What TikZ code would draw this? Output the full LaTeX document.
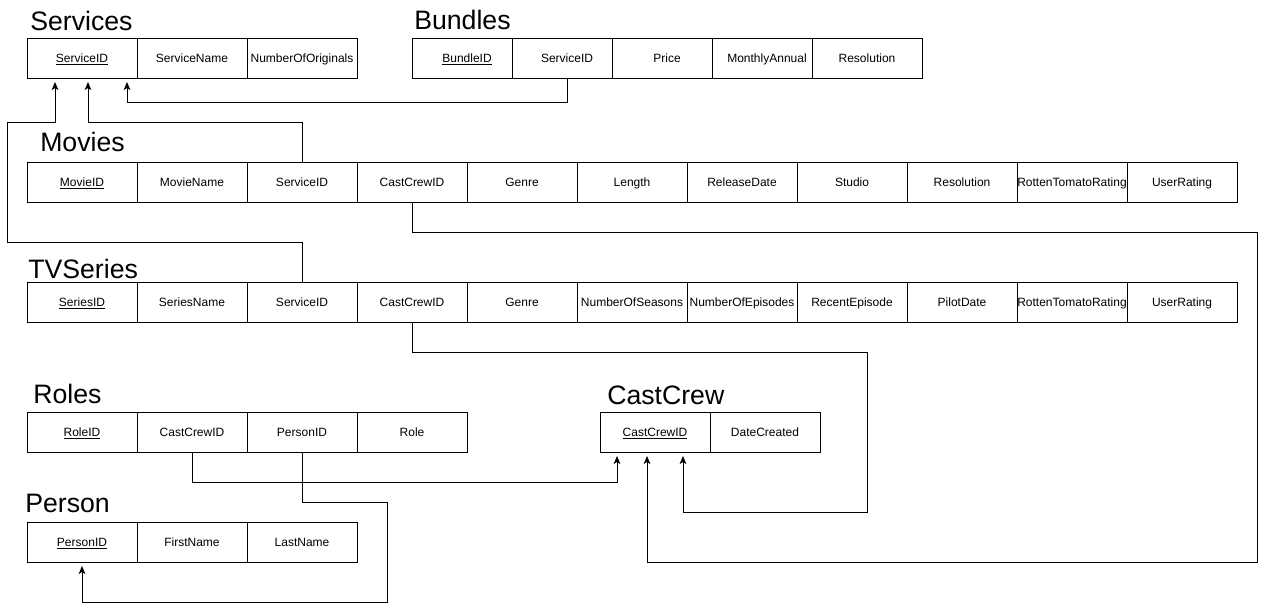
\documentclass[tikz,border=0pt]{standalone}
\usepackage{fontspec}
\setmainfont{Liberation Sans}
\usetikzlibrary{positioning,arrows.meta}

\tikzset{
  cell/.style={draw, fill=white, line width=0.75pt, minimum width=82.5pt, minimum height=30pt,
    inner sep=0pt, outer sep=0pt, text height=7pt, text depth=1pt,
    font=\fontsize{9pt}{11pt}\selectfont},
  tabletitle/.style={anchor=base west, inner sep=0pt, font=\fontsize{20pt}{24pt}\selectfont},
  fk/.style={line width=0.75pt, shorten >=3pt, -{Stealth[length=6pt,width=5pt,inset=1.5pt]}}
}

\begin{document}
\begin{tikzpicture}[x=0.75pt, y=-0.75pt]
        \useasboundingbox (0,0) rectangle (1266,611);

        % Services
        \node[tabletitle] (servicestitle) at (30,30) {Services};
        \node[cell, anchor=north west] (s1) at (27,38) {\underline{ServiceID}};
        \node[cell, right=0pt of s1] (s2) {ServiceName};
        \node[cell, right=0pt of s2] (s3) {NumberOfOriginals};

        % Bundles (cells overlap a little)
        \node[tabletitle] (bundlestitle) at (414,29) {Bundles};
        \node[cell, anchor=north west] (b1) at (412,38) {\underline{BundleID}};
        \node[cell, right=-7.5pt of b1] (b2) {ServiceID};
        \node[cell, right=-7.5pt of b2] (b3) {Price};
        \node[cell, right=-7.5pt of b3] (b4) {MonthlyAnnual};
        \node[cell, right=-7.5pt of b4] (b5) {Resolution};

        % Movies
        \node[tabletitle] (moviestitle) at (40,151) {Movies};
        \node[cell, anchor=north west] (m1) at (27,162) {\underline{MovieID}};
        \node[cell, right=0pt of m1] (m2) {MovieName};
        \node[cell, right=0pt of m2] (m3) {ServiceID};
        \node[cell, right=0pt of m3] (m4) {CastCrewID};
        \node[cell, right=0pt of m4] (m5) {Genre};
        \node[cell, right=0pt of m5] (m6) {Length};
        \node[cell, right=0pt of m6] (m7) {ReleaseDate};
        \node[cell, right=0pt of m7] (m8) {Studio};
        \node[cell, right=0pt of m8] (m9) {Resolution};
        \node[cell, right=0pt of m9] (m10) {\makebox[0pt]{RottenTomatoRating}};
        \node[cell, right=0pt of m10] (m11) {UserRating};

        % TVSeries
        \node[tabletitle] (seriestitle) at (28,278) {TVSeries};
        \node[cell, anchor=north west] (t1) at (27,282) {\underline{SeriesID}};
        \node[cell, right=0pt of t1] (t2) {SeriesName};
        \node[cell, right=0pt of t2] (t3) {ServiceID};
        \node[cell, right=0pt of t3] (t4) {CastCrewID};
        \node[cell, right=0pt of t4] (t5) {Genre};
        \node[cell, right=0pt of t5] (t6) {NumberOfSeasons};
        \node[cell, right=0pt of t6] (t7) {NumberOfEpisodes};
        \node[cell, right=0pt of t7] (t8) {RecentEpisode};
        \node[cell, right=0pt of t8] (t9) {PilotDate};
        \node[cell, right=0pt of t9] (t10) {\makebox[0pt]{RottenTomatoRating}};
        \node[cell, right=0pt of t10] (t11) {UserRating};

        % Roles
        \node[tabletitle] (rolestitle) at (33,403) {Roles};
        \node[cell, anchor=north west] (r1) at (27,412) {\underline{RoleID}};
        \node[cell, right=0pt of r1] (r2) {CastCrewID};
        \node[cell, right=0pt of r2] (r3) {PersonID};
        \node[cell, right=0pt of r3] (r4) {Role};

        % CastCrew
        \node[tabletitle] (castcrewtitle) at (607,404) {CastCrew};
        \node[cell, anchor=north west] (c1) at (600,412) {\underline{CastCrewID}};
        \node[cell, right=0pt of c1] (c2) {DateCreated};

        % Person
        \node[tabletitle] (persontitle) at (25,512) {Person};
        \node[cell, anchor=north west] (p1) at (27,522) {\underline{PersonID}};
        \node[cell, right=0pt of p1] (p2) {FirstName};
        \node[cell, right=0pt of p2] (p3) {LastName};

        % foreign keys
        \draw[fk] (b2.south) -- ++(0,24) -| ([xshift=-7.5pt]s1.south east);
        \draw[fk] (m3.north) -- ++(0,-40) -| ([xshift=4.5pt]s1.south);
        \draw[fk] (t3.north) -- ++(0,-40) -| ++(-295,-120) -| ([xshift=-20.25pt]s1.south);
        \draw[fk] (m4.south) -- ++(0,30) -| ++(845,330) -| ([xshift=-6pt]c1.south);
        \draw[fk] (t4.south) -- ++(0,30) -| ++(455,160) -| ([xshift=21pt]c1.south);
        \draw[fk] (r2.south) -- ++(0,30) -| ([xshift=-28.5pt]c1.south);
        \draw[fk] (r3.south) -- ++(0,50) -| ++(85,100) -| (p1.south);
    \end{tikzpicture}
\end{document}
